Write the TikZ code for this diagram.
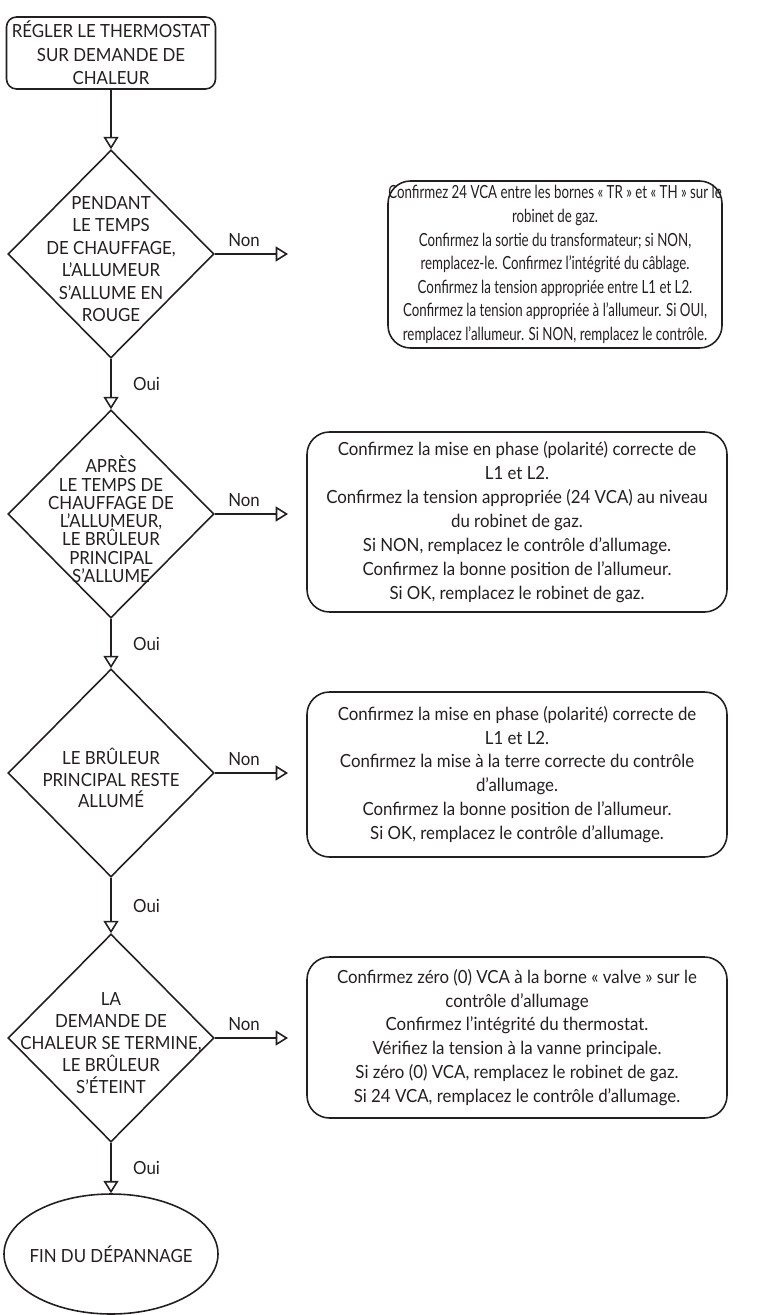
\documentclass[tikz,border=0pt]{standalone}
\usepackage{fontspec}
\setmainfont{Lato}[FakeStretch=0.93]
\newfontfamily\narrowfont[FakeStretch=0.735]{Lato}
\usetikzlibrary{shapes.geometric,arrows.meta,positioning}
\definecolor{ink}{RGB}{35,31,32}
\newcommand{\dtext}[1]{\smash{\makebox[0pt]{\raisebox{-5.5pt}{\parbox{4.2cm}{\lineskiplimit=-10pt\centering #1}}}}}
\tikzset{startbox/.style={
            draw=ink,
            text=ink,
            line width=0.9pt,
            rounded corners=0.2cm,
            minimum width=4.18cm,
            minimum height=1.44cm,
            inner sep=0pt,
            align=center,
            font=\fontsize{10.3}{13.4}\selectfont
        },
        decision/.style={
            draw=ink,
            text=ink,
            diamond,
            aspect=1,
            line width=0.9pt,
            minimum width=4.12cm,
            minimum height=4.16cm,
            inner sep=0pt
        },
        infobox/.style={
            draw=ink,
            text=ink,
            line width=0.9pt,
            rounded corners=0.45cm,
            inner sep=0pt,
            align=center,
            font=\fontsize{10.3}{13.6}\selectfont
        },
        endoval/.style={
            draw=ink,
            text=ink,
            ellipse,
            line width=0.9pt,
            minimum width=4.28cm,
            minimum height=2.4cm,
            inner sep=0pt,
            font=\fontsize{10.3}{13}\selectfont
        },
        flow/.style={
            draw=ink,
            line width=1.5pt,
            -{Triangle[open,length=7pt,width=8.5pt,line width=0.9pt]}
        },
        answer/.style={
            text=ink,
            font=\fontsize{10.3}{12}\selectfont
        }
    }

\begin{document}
\begin{tikzpicture}
    \useasboundingbox (0,0) rectangle (15.16,-26.3);

    \node[startbox] at (2.22,-1.06) (reglage) {RÉGLER LE THERMOSTAT\\SUR DEMANDE DE\\CHALEUR};

    \node[decision, font=\fontsize{10.3}{12.8}\selectfont] at (2.22,-5.08) (chauffe)
        {\dtext{PENDANT\\LE TEMPS\\DE CHAUFFAGE,\\L’ALLUMEUR\\S’ALLUME EN\\ROUGE}};
    \node[decision, font=\fontsize{10.3}{10.4}\selectfont] at (2.22,-10.28) (allumage)
        {\dtext{APRÈS\\LE TEMPS DE\\CHAUFFAGE DE\\L’ALLUMEUR,\\LE BRÛLEUR\\PRINCIPAL\\S’ALLUME}};
    \node[decision, font=\fontsize{10.3}{12.2}\selectfont] at (2.22,-15.46) (maintien)
        {\dtext{LE BRÛLEUR\\PRINCIPAL RESTE\\ALLUMÉ}};
    \node[decision, font=\fontsize{10.3}{12.5}\selectfont] at (2.22,-20.76) (arret)
        {\dtext{LA\\DEMANDE DE\\CHALEUR SE TERMINE,\\LE BRÛLEUR\\S’ÉTEINT}};

    \node[endoval] at (2.22,-25.08) (fin) {\makebox[0pt]{FIN DU DÉPANNAGE}};

    \node[infobox, font=\narrowfont\fontsize{10.3}{13.4}\selectfont,
          minimum width=6.68cm, minimum height=3.34cm] at (11.1,-5.29) (verifA)
        {Confirmez 24 VCA entre les bornes « TR » et « TH » sur le\\
         robinet de gaz.\\
         Confirmez la sortie du transformateur; si NON,\\
         remplacez-le. Confirmez l’intégrité du câblage.\\
         Confirmez la tension appropriée entre L1 et L2.\\
         Confirmez la tension appropriée à l’allumeur. Si OUI,\\
         remplacez l’allumeur. Si NON, remplacez le contrôle.};
    \node[infobox, minimum width=8.4cm, minimum height=3.6cm] at (10.34,-10.44) (verifB)
        {Confirmez la mise en phase (polarité) correcte de\\
         L1 et L2.\\
         Confirmez la tension appropriée (24 VCA) au niveau\\
         du robinet de gaz.\\
         Si NON, remplacez le contrôle d’allumage.\\
         Confirmez la bonne position de l’allumeur.\\
         Si OK, remplacez le robinet de gaz.};
    \node[infobox, minimum width=8.4cm, minimum height=3.3cm] at (10.34,-15.49) (verifC)
        {Confirmez la mise en phase (polarité) correcte de\\
         L1 et L2.\\
         Confirmez la mise à la terre correcte du contrôle\\
         d’allumage.\\
         Confirmez la bonne position de l’allumeur.\\
         Si OK, remplacez le contrôle d’allumage.};
    \node[infobox, minimum width=8.4cm, minimum height=3.22cm] at (10.34,-20.75) (verifD)
        {Confirmez zéro (0) VCA à la borne « valve » sur le\\
         contrôle d’allumage\\
         Confirmez l’intégrité du thermostat.\\
         Vérifiez la tension à la vanne principale.\\
         Si zéro (0) VCA, remplacez le robinet de gaz.\\
         Si 24 VCA, remplacez le contrôle d’allumage.};

    % ends of the Non arrows
    \coordinate (nonA) at (5.76,-5.08);
    \coordinate (nonB) at (5.76,-10.28);
    \coordinate (nonC) at (5.76,-15.46);
    \coordinate (nonD) at (5.76,-20.76);

    \draw[flow] (reglage.south) -- (chauffe.north);
    \draw[flow] (chauffe.south) -- node[answer, right=0.3cm] {Oui} (allumage.north);
    \draw[flow] (allumage.south) -- node[answer, right=0.3cm] {Oui} (maintien.north);
    \draw[flow] (maintien.south) -- node[answer, right=0.3cm] {Oui} (arret.north);
    \draw[flow] (arret.south) -- node[answer, right=0.3cm] {Oui} (fin.north);

    \draw[flow] (chauffe.east) -- node[answer, above, pos=0.4] {Non} (nonA);
    \draw[flow] (allumage.east) -- node[answer, above, pos=0.4] {Non} (nonB);
    \draw[flow] (maintien.east) -- node[answer, above, pos=0.4] {Non} (nonC);
    \draw[flow] (arret.east) -- node[answer, above, pos=0.4] {Non} (nonD);

\end{tikzpicture}
\end{document}
